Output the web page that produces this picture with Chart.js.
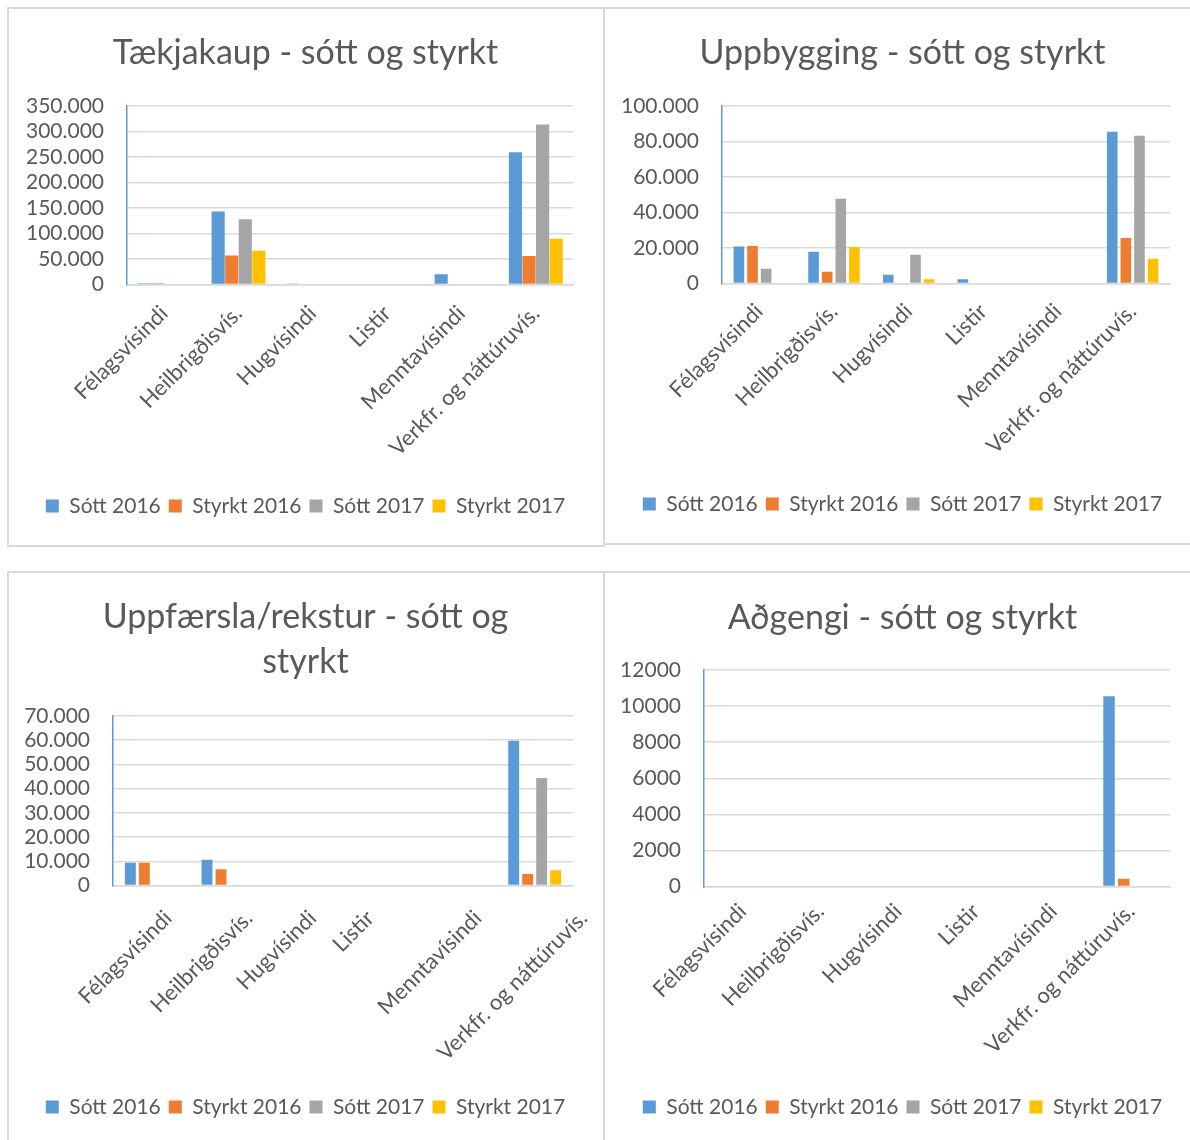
<!DOCTYPE html>
<html>
<head>
<meta charset="utf-8">
<script src="https://cdn.jsdelivr.net/npm/chart.js@4/dist/chart.umd.min.js"></script>
<style>
  html, body { margin: 0; padding: 0; background: #fff; overflow: hidden; width: 1190px; height: 1140px; }
  .box { position: absolute; border: 2px solid #d9d9d9; box-sizing: border-box; }
  canvas { position: absolute; }
</style>
</head>
<body>
<div class="box" style="left:7px;top:7px;width:598px;height:540px;"></div>
<div class="box" style="left:603px;top:7px;width:600px;height:538px;"></div>
<div class="box" style="left:7px;top:571px;width:598px;height:600px;"></div>
<div class="box" style="left:603px;top:571px;width:600px;height:600px;"></div>

<canvas id="c1" width="595" height="537" style="left:8px;top:8px;"></canvas>
<canvas id="c2" width="597" height="535" style="left:604px;top:8px;"></canvas>
<canvas id="c3" width="595" height="567" style="left:8px;top:573px;"></canvas>
<canvas id="c4" width="597" height="567" style="left:604px;top:573px;"></canvas>

<script>
// ---------- data ----------
const categories = ['Félagsvísindi', 'Heilbrigðisvís.', 'Hugvísindi', 'Listir', 'Menntavísindi', 'Verkfr. og náttúruvís.'];
const seriesNames = ['Sótt 2016', 'Styrkt 2016', 'Sótt 2017', 'Styrkt 2017'];
const seriesColors = ['#5b9bd5', '#ed7d31', '#a5a5a5', '#ffc000'];

// Tækjakaup
const tk_sott2016   = [2500, 143000, 2000, 0, 20300, 259500];
const tk_styrkt2016 = [2500, 57000, 0, 0, 0, 55700];
const tk_sott2017   = [0, 127800, 0, 0, 0, 313900];
const tk_styrkt2017 = [0, 66200, 0, 0, 0, 89800];
const tk_ticks = [0, 50000, 100000, 150000, 200000, 250000, 300000, 350000];

// Uppbygging
const ub_sott2016   = [20900, 17900, 4900, 2400, 0, 85500];
const ub_styrkt2016 = [21100, 6600, 0, 0, 0, 25600];
const ub_sott2017   = [8300, 47800, 16200, 0, 0, 83200];
const ub_styrkt2017 = [0, 20500, 2400, 0, 0, 13900];
const ub_ticks = [0, 20000, 40000, 60000, 80000, 100000];

// Uppfærsla/rekstur
const up_sott2016   = [9400, 10600, 0, 0, 0, 59800];
const up_styrkt2016 = [9400, 6700, 0, 0, 0, 4800];
const up_sott2017   = [0, 0, 0, 0, 0, 44400];
const up_styrkt2017 = [0, 0, 0, 0, 0, 6300];
const up_ticks = [0, 10000, 20000, 30000, 40000, 50000, 60000, 70000];

// Aðgengi
const ad_sott2016   = [0, 0, 0, 0, 0, 10550];
const ad_styrkt2016 = [0, 0, 0, 0, 0, 430];
const ad_sott2017   = [0, 0, 0, 0, 0, 0];
const ad_styrkt2017 = [0, 0, 0, 0, 0, 0];
const ad_ticks = [0, 2000, 4000, 6000, 8000, 10000, 12000];

// ---------- rendering ----------
const FONT = 'Lato';
const TXT = '#595959';
const dotted = v => String(v).replace(/\B(?=(\d{3})+(?!\d))/g, '.');
const plain = v => String(v);

// Draws rotated category labels at the x scale's tick pixels with per-label shifts
const shiftedLabels = {
  id: 'shiftedLabels',
  afterDraw(chart, args, opts) {
    if (!opts || !opts.offsets) return;
    const sc = chart.scales.x;
    const ctx = chart.ctx;
    ctx.save();
    ctx.fillStyle = TXT;
    ctx.font = '22px ' + FONT;
    ctx.textAlign = 'right';
    ctx.textBaseline = 'middle';
    chart.data.labels.forEach((lab, i) => {
      const x = sc.getPixelForTick(i) + opts.offsets[i];
      const y = sc.top + opts.dy;
      ctx.save();
      ctx.translate(x, y);
      ctx.rotate(-Math.PI / 4);
      ctx.fillText(lab, 0, 0);
      ctx.restore();
    });
    ctx.restore();
  }
};

function build(id, title, seriesData, ticksList, fmt, g) {
  const datasets = seriesData.map((d, i) => ({
    label: seriesNames[i],
    data: d,
    backgroundColor: seriesColors[i],
    borderWidth: 0,
    categoryPercentage: g.catPct,
    barPercentage: g.barPct
  }));
  const custom = !!g.labelOffsets;
  return new Chart(document.getElementById(id), {
    type: 'bar',
    data: { labels: categories, datasets },
    plugins: custom ? [shiftedLabels] : [],
    options: {
      responsive: false,
      animation: false,
      devicePixelRatio: 1,
      layout: { padding: { left: 0, right: 0, top: 0, bottom: g.padBottom } },
      plugins: {
        tooltip: { enabled: false },
        shiftedLabels: custom ? { offsets: g.labelOffsets, dy: g.labelDy } : {},
        title: {
          display: true,
          text: title,
          color: TXT,
          font: { family: FONT, size: 34, weight: 'normal', lineHeight: g.titleLH },
          padding: { top: g.titleTop, bottom: g.titleBottom }
        },
        legend: {
          position: 'bottom',
          labels: {
            color: TXT,
            font: { family: FONT, size: 21 },
            boxWidth: 13,
            boxHeight: 13,
            padding: 8
          }
        }
      },
      scales: {
        x: {
          grid: { display: false, drawTicks: false },
          border: { display: true, color: '#d9d9d9', width: 1.5 },
          ticks: {
            color: custom ? 'rgba(0,0,0,0)' : TXT,
            font: { family: FONT, size: 22 },
            maxRotation: 45,
            minRotation: 45,
            autoSkip: false,
            padding: g.xPad
          },
          afterFit: s => { s.height = g.xH; }
        },
        y: {
          min: ticksList[0],
          max: ticksList[ticksList.length - 1],
          afterBuildTicks: s => { s.ticks = ticksList.map(v => ({ value: v })); },
          grid: { color: '#d9d9d9', lineWidth: 1.5, drawTicks: false },
          border: { display: true, color: '#5b9bd5', width: 1.5 },
          ticks: {
            color: TXT,
            font: { family: FONT, size: 21 },
            padding: 23,
            autoSkip: false,
            callback: v => fmt(v)
          },
          afterFit: s => { s.width = g.plotLeft; }
        },
        yR: {
          position: 'right',
          display: true,
          grid: { display: false, drawTicks: false },
          border: { display: false },
          ticks: { display: false },
          afterFit: s => { s.width = g.rightW; }
        }
      }
    }
  });
}

build('c1', 'Tækjakaup - sótt og styrkt',
  [tk_sott2016, tk_styrkt2016, tk_sott2017, tk_styrkt2017], tk_ticks, dotted,
  { plotLeft: 119, rightW: 30, titleLH: 1.2, titleTop: 24.6, titleBottom: 32.6, xH: 203, xPad: 16, padBottom: 18.5, catPct: 0.73, barPct: 0.97 });

build('c2', 'Uppbygging - sótt og styrkt',
  [ub_sott2016, ub_styrkt2016, ub_sott2017, ub_styrkt2017], ub_ticks, dotted,
  { plotLeft: 118, rightW: 31, titleLH: 1.2, titleTop: 24.6, titleBottom: 32.6, xH: 202, xPad: 15, padBottom: 18.5, catPct: 0.73, barPct: 0.78 });

build('c3', ['Uppfærsla/rekstur - sótt og', 'styrkt'],
  [up_sott2016, up_styrkt2016, up_sott2017, up_styrkt2017], up_ticks, dotted,
  { plotLeft: 105, rightW: 30, titleLH: 1.3, titleTop: 22.4, titleBottom: 32.2, xH: 203, xPad: 17, padBottom: 12.5, catPct: 0.73, barPct: 0.78,
    labelOffsets: [17, 21, 8, -11, 20, 49], labelDy: 29 });

build('c4', 'Aðgengi - sótt og styrkt',
  [ad_sott2016, ad_styrkt2016, ad_sott2017, ad_styrkt2017], ad_ticks, plain,
  { plotLeft: 100, rightW: 31, titleLH: 1.2, titleTop: 24.6, titleBottom: 31.6, xH: 202, xPad: 12, padBottom: 12.5, catPct: 0.76, barPct: 0.78 });
</script>
</body>
</html>
